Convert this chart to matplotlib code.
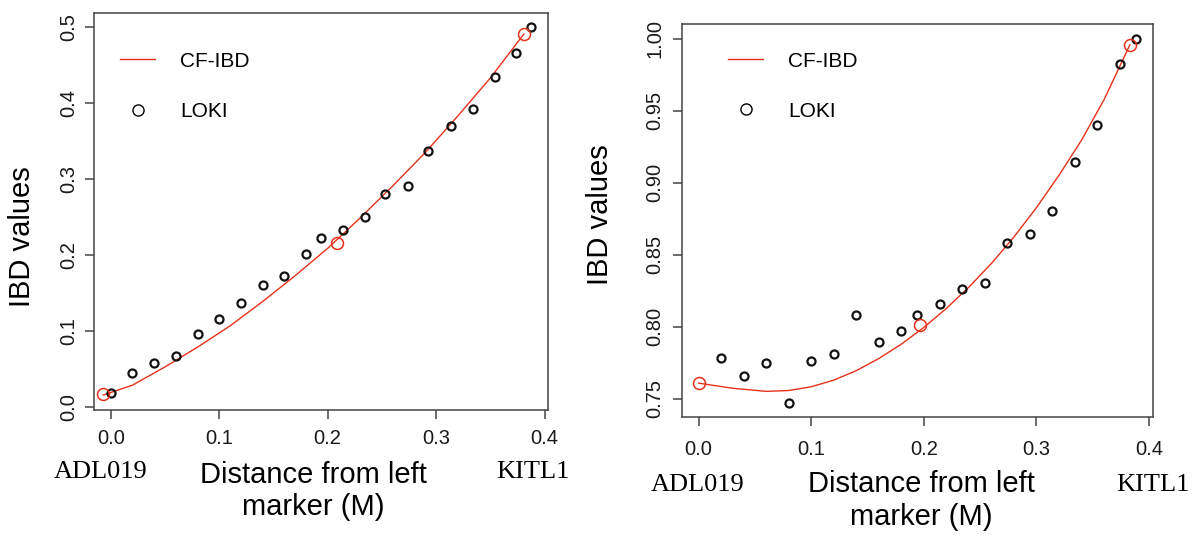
import numpy as np
import matplotlib
matplotlib.use('Agg')
import matplotlib.pyplot as plt
from matplotlib.lines import Line2D

plt.rcParams['font.family'] = ['Liberation Sans', 'DejaVu Sans']

RED = '#e8311a'
FRAME = '#444444'

# ---- left panel data ----
loki_x_l = [0.0, 0.02, 0.04, 0.06, 0.08, 0.10, 0.12, 0.14, 0.16, 0.18,
            0.194, 0.214, 0.234, 0.253, 0.274, 0.293, 0.314, 0.334, 0.354, 0.374, 0.388]
loki_y_l = [0.019, 0.045, 0.058, 0.068, 0.096, 0.116, 0.137, 0.161, 0.172, 0.201,
            0.223, 0.233, 0.250, 0.281, 0.291, 0.337, 0.370, 0.392, 0.435, 0.466, 0.500]
cf_x_l = [-0.007, 0.02, 0.05, 0.08, 0.11, 0.14, 0.17, 0.20, 0.23, 0.26, 0.29, 0.32, 0.35, 0.381]
cf_y_l = [0.016, 0.029, 0.053, 0.079, 0.107, 0.139, 0.173, 0.209, 0.249, 0.291, 0.335, 0.383, 0.433, 0.491]
mark_x_l = [-0.007, 0.209, 0.381]
mark_y_l = [0.017, 0.216, 0.491]

# ---- right panel data ----
loki_x_r = [0.02, 0.04, 0.06, 0.08, 0.10, 0.12, 0.14, 0.16, 0.18,
            0.194, 0.214, 0.234, 0.254, 0.274, 0.294, 0.314, 0.334, 0.354, 0.374, 0.388]
loki_y_r = [0.778, 0.766, 0.775, 0.747, 0.776, 0.781, 0.808, 0.789, 0.797,
            0.808, 0.816, 0.826, 0.830, 0.858, 0.864, 0.880, 0.914, 0.940, 0.982, 1.000]
cf_x_r = [0.0, 0.03, 0.06, 0.08, 0.10, 0.12, 0.14, 0.16, 0.18, 0.20,
          0.22, 0.24, 0.26, 0.28, 0.30, 0.32, 0.34, 0.36, 0.383]
cf_y_r = [0.7607, 0.7572, 0.7550, 0.7556, 0.7582, 0.7628, 0.7694, 0.7778, 0.7878, 0.7994,
          0.8126, 0.8274, 0.8438, 0.8622, 0.8826, 0.9050, 0.9294, 0.9575, 0.9957]
mark_x_r = [0.0, 0.197, 0.383]
mark_y_r = [0.7607, 0.801, 0.9957]

xticks = [0.0, 0.1, 0.2, 0.3, 0.4]
xtick_labels = ['0.0', '0.1', '0.2', '0.3', '0.4']
yticks_l = [0.0, 0.1, 0.2, 0.3, 0.4, 0.5]
ytick_labels_l = ['0.0', '0.1', '0.2', '0.3', '0.4', '0.5']
yticks_r = [0.75, 0.80, 0.85, 0.90, 0.95, 1.00]
ytick_labels_r = ['0.75', '0.80', '0.85', '0.90', '0.95', '1.00']

W, H = 1200, 547
fig = plt.figure(figsize=(W / 100, H / 100), dpi=100)


def px_axes(x0, x1, y0, y1):
    return fig.add_axes([x0 / W, 1 - y1 / H, (x1 - x0) / W, (y1 - y0) / H])


def draw_panel(ax, lx, ly, cx, cy, mx, my, yticks, ylabels, ylim,
               xpad, ypad, ylab_xy, xlab_xy, leg_xy, mk_left, mk_right):
    ax.plot(cx, cy, color=RED, lw=1.0, zorder=2)
    ax.plot(lx, ly, 'o', ms=5.8, mfc='none', mec='#111111', mew=1.6, zorder=3)
    ax.plot(mx, my, 'o', ms=8.6, mfc='none', mec=RED, mew=1.1, zorder=4)
    ax.set_xlim(-0.0152, 0.4035)
    ax.set_ylim(*ylim)
    ax.set_xticks(xticks)
    ax.set_xticklabels(xtick_labels)
    ax.set_yticks(yticks)
    ax.set_yticklabels(ylabels, rotation=90, va='center')
    ax.tick_params(axis='x', length=6.5, width=1.1, color=FRAME, labelsize=14.5,
                   labelcolor='#1a1a1a', pad=xpad)
    ax.tick_params(axis='y', length=6.5, width=1.1, color=FRAME, labelsize=14.5,
                   labelcolor='#1a1a1a', pad=ypad)
    for s in ax.spines.values():
        s.set_color(FRAME)
        s.set_linewidth(1.1)
    ax.set_ylabel('IBD values', fontsize=21)
    ax.yaxis.set_label_coords(*ylab_xy)
    ax.set_xlabel('Distance from left\nmarker (M)', fontsize=21, linespacing=1.2)
    ax.xaxis.set_label_coords(*xlab_xy)
    handles = [Line2D([], [], color=RED, lw=1.0),
               Line2D([], [], ls='none', marker='o', ms=8, mfc='none', mec='black', mew=1.0)]
    ax.legend(handles, ['CF-IBD', 'LOKI'], loc='upper left', bbox_to_anchor=leg_xy,
              frameon=False, fontsize=15, handlelength=1.7, handletextpad=1.2,
              labelspacing=1.5, borderpad=0, borderaxespad=0)
    ax.text(mk_left[0], mk_left[1], 'ADL019', transform=ax.transAxes, ha='center',
            va='center', fontsize=19, family=['Liberation Serif', 'DejaVu Serif'])
    ax.text(mk_right[0], mk_right[1], 'KITL1', transform=ax.transAxes, ha='center',
            va='center', fontsize=19, family=['Liberation Serif', 'DejaVu Serif'])


# left axes: pixel box 94.3..548.3 x 12.7..409.5
ax1 = px_axes(94.3, 548.3, 12.7, 409.5)
draw_panel(ax1, loki_x_l, loki_y_l, cf_x_l, cf_y_l, mark_x_l, mark_y_l,
           yticks_l, ytick_labels_l, (-0.003, 0.519),
           xpad=7.5, ypad=5, ylab_xy=(-0.128, 0.435), xlab_xy=(0.482, -0.13),
           leg_xy=(0.0566, 0.902),
           mk_left=((100.9 - 94.3) / 454, (409.5 - 472) / 396.8),
           mk_right=((533 - 94.3) / 454, (409.5 - 472) / 396.8))

# right axes: pixel box 681.5..1153 x 24..417.3
ax2 = px_axes(681.5, 1153, 24, 417.3)
draw_panel(ax2, loki_x_r, loki_y_r, cf_x_r, cf_y_r, mark_x_r, mark_y_r,
           yticks_r, ytick_labels_r, (0.737, 1.0101),
           xpad=9.5, ypad=6, ylab_xy=(-0.143, 0.516), xlab_xy=(0.5095, -0.135),
           leg_xy=(0.0986, 0.930),
           mk_left=((697.6 - 681.5) / 471.5, (417.3 - 485) / 393.3),
           mk_right=((1153 - 681.5) / 471.5, (417.3 - 485) / 393.3))

fig.savefig('out.png', dpi=100)
plt.close(fig)
